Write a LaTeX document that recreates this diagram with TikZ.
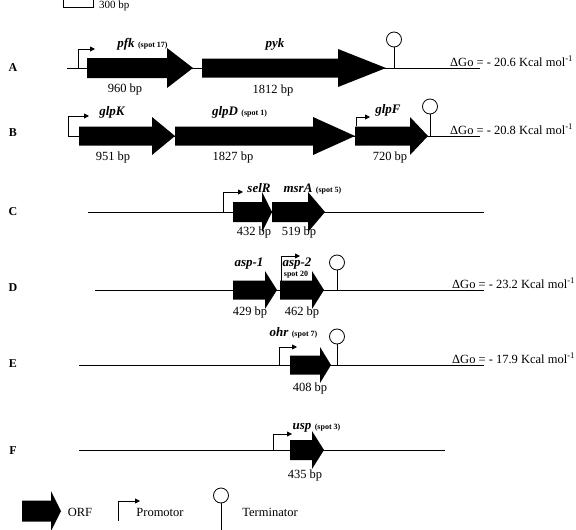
\documentclass[tikz,border=0pt]{standalone}
\usepackage{fontspec}
\setmainfont{Liberation Serif}
\usetikzlibrary{arrows.meta}
\tikzset{
  dna/.style={line width=0.8pt},
  orf/.style={fill=black},
  promo/.style={line width=0.8pt,-{Triangle[length=5pt,width=5pt]}},
  gname/.style={inner sep=0pt,font=\fontsize{13}{15}\selectfont\bfseries\itshape},
  spot/.style={inner sep=0pt,font=\fontsize{8}{9}\selectfont\bfseries},
  spotr/.style={spot,anchor=base west,xshift=3pt},
  bplab/.style={inner sep=0pt,font=\fontsize{12.5}{14}\selectfont},
  dg/.style={inner sep=0pt,anchor=base west,font=\fontsize{12.5}{14}\selectfont},
  rowlab/.style={inner sep=0pt,font=\fontsize{12}{14}\selectfont\bfseries},
  leg/.style={inner sep=0pt,font=\fontsize{12.5}{14}\selectfont},
}
\newcommand\orfshape[6]{\fill[orf] (#1,{#4-#5}) -- (#2,{#4-#5}) -- (#2,{#4-#6}) -- (#3,#4) -- (#2,{#4+#6}) -- (#2,{#4+#5}) -- (#1,{#4+#5}) -- cycle;}
\newcommand\promot[4]{\draw[promo] (#1,#2) -- (#1,#3) -- (#4,#3);}
\newcommand\termin[4]{\draw[dna] (#1,#2) -- (#1,#3); \draw[dna,fill=white] (#1,#4) circle (7.5pt);}
\begin{document}
\begin{tikzpicture}[x=1pt,y=-1pt]
\useasboundingbox (0,0) rectangle (576,530);
% scale bar
\draw[dna] (63,0) -- (63,7) -- (93,7) -- (93,0);
\node[inner sep=0pt,anchor=west,font=\fontsize{11}{12}\selectfont] (scale) at (99,6) {300 bp};
% row labels
\node[rowlab] (la) at (13,68) {A};
\node[rowlab] (lb) at (13,133) {B};
\node[rowlab] (lc) at (13,212) {C};
\node[rowlab] (ld) at (13,288) {D};
\node[rowlab] (le) at (13,364) {E};
\node[rowlab] (lf) at (13,451) {F};
% ---------- Row A
\draw[dna] (67,68) -- (480,68);
\orfshape{87}{167}{193}{68}{10}{20}
\orfshape{202}{338}{386}{68}{9.5}{19}
\promot{78}{68}{49}{95}
\termin{394}{68}{47}{39.5}
\node[gname] (pfk) at (126,44) {pfk};
\node[spotr] (pfks) at (pfk.base east) {(spot 17)};
\node[gname] (pyk) at (275,44) {pyk};
\node[bplab] (a1) at (125,89) {960 bp};
\node[bplab] (a2) at (273,90) {1812 bp};
\node[dg] (dga) at (450,66) {ΔGo = - 20.6 Kcal mol\textsuperscript{-1}};
% ---------- Row B
\draw[dna] (68,136) -- (480,136);
\orfshape{79}{152}{175}{136}{9.5}{19}
\orfshape{175}{313}{355}{136}{9.5}{19}
\orfshape{355}{410}{428}{136}{9.5}{19}
\promot{68}{136}{116}{89}
\promot{356}{126}{117}{370}
\termin{430}{136}{114}{106.5}
\node[gname] (glpk) at (112,112) {glpK};
\node[gname] (glpd) at (225,112) {glpD};
\node[spotr] (glpds) at (glpd.base east) {(spot 1)};
\node[gname] (glpf) at (388,110) {glpF};
\node[bplab] (b1) at (113,157) {951 bp};
\node[bplab] (b2) at (233,157) {1827 bp};
\node[bplab] (b3) at (390,157) {720 bp};
\node[dg] (dgb) at (450,134) {ΔGo = - 20.8 Kcal mol\textsuperscript{-1}};
% ---------- Row C
\draw[dna] (88,212) -- (484,212);
\orfshape{233}{262}{272}{212}{10}{20}
\orfshape{272}{308}{325}{212}{10}{20}
\promot{223}{212}{192}{243}
\node[gname] (selr) at (259,188) {selR};
\node[gname] (msra) at (298,188) {msrA};
\node[spotr] (msras) at (msra.base east) {(spot 5)};
\node[bplab] (c1) at (254,232) {432 bp};
\node[bplab] (c2) at (299,232) {519 bp};
% ---------- Row D
\draw[dna] (95,290) -- (484,290);
\orfshape{233}{265}{277}{290}{9.5}{19}
\orfshape{280}{312}{324}{290}{9.5}{19}
\promot{281}{280.5}{256}{300}
\termin{337}{290}{270}{262.5}
\node[gname] (asp1) at (249,264) {asp-1};
\node[gname] (asp2) at (297,264) {asp-2};
\node[spot] (asp2s) at (296,275) {spot 20};
\node[bplab] (d1) at (250,312) {429 bp};
\node[bplab] (d2) at (302,312) {462 bp};
\node[dg] (dgd) at (452,288) {ΔGo = - 23.2 Kcal mol\textsuperscript{-1}};
% ---------- Row E
\draw[dna] (79,365) -- (484,365);
\orfshape{290}{320}{331}{365}{9.5}{18}
\promot{279}{365}{347}{297}
\termin{337}{365}{344}{336.5}
\node[gname] (ohr) at (279,332) {ohr};
\node[spotr] (ohrs) at (ohr.base east) {(spot 7)};
\node[bplab] (e1) at (310,388) {408 bp};
\node[dg] (dge) at (452,363) {ΔGo = - 17.9 Kcal mol\textsuperscript{-1}};
% ---------- Row F
\draw[dna] (79,450) -- (445,450);
\orfshape{290}{312}{324}{450}{10}{19}
\promot{273}{450}{434}{292}
\node[gname] (usp) at (302,428) {usp};
\node[spotr] (usps) at (usp.base east) {(spot 3)};
\node[bplab] (f1) at (305,475) {435 bp};
% ---------- Legend
\orfshape{22}{51}{61}{511}{10.5}{20}
\node[leg] (lorf) at (80,512) {ORF};
\promot{118}{521}{501}{140}
\node[leg] (lpro) at (160,512) {Promotor};
\termin{221}{530}{503}{495.5}
\node[leg] (lter) at (270,512) {Terminator};
\end{tikzpicture}
\end{document}
